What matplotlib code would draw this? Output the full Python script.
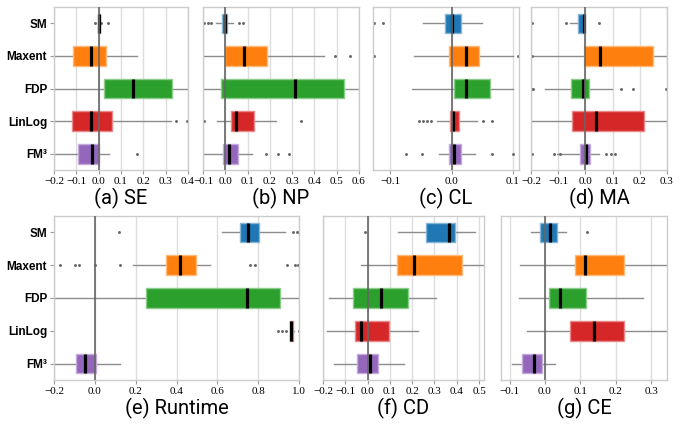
import numpy as np
import matplotlib.pyplot as plt
from matplotlib.colors import to_rgb

plt.rcParams['font.family'] = ['Liberation Serif', 'DejaVu Serif']

# methods, top to bottom
methods = ['SM', 'Maxent', 'FDP', 'LinLog', 'FM³']
colors = ['#1f77b4', '#ff7f0e', '#2ca02c', '#d62728', '#9467bd']

# (whislo, q1, median, q3, whishi) per method
se = [(-0.005, -0.003, 0.002, 0.005, 0.008),
      (-0.21, -0.115, -0.033, 0.031, 0.173),
      (-0.21, 0.024, 0.154, 0.33, 0.45),
      (-0.21, -0.12, -0.033, 0.061, 0.325),
      (-0.21, -0.094, -0.028, 0.0, 0.045)]
se_fliers = [[-0.015, 0.012, 0.042], [], [], [0.348, 0.397], [0.173]]

np_ = [(-0.04, -0.015, -0.003, 0.007, 0.034),
       (-0.11, 0.0, 0.084, 0.185, 0.442),
       (-0.11, -0.018, 0.312, 0.532, 0.62),
       (-0.037, 0.025, 0.049, 0.127, 0.229),
       (-0.097, -0.01, 0.016, 0.058, 0.12)]
np_fliers = [[-0.097, -0.078, -0.064, 0.061, 0.079], [0.49, 0.56], [],
             [-0.097, 0.338], [0.184, 0.235, 0.288]]

cl = [(-0.046, -0.011, 0.0, 0.015, 0.049),
      (-0.061, -0.004, 0.023, 0.044, 0.1),
      (-0.064, 0.004, 0.024, 0.062, 0.1),
      (-0.024, -0.003, 0.002, 0.013, 0.041),
      (-0.021, -0.004, 0.004, 0.015, 0.039)]
cl_fliers = [[-0.127, -0.112], [-0.127, 0.109], [],
             [-0.053, -0.047, -0.04, -0.033, 0.052, 0.066],
             [-0.074, -0.048, 0.066, 0.1]]

ma = [(-0.055, -0.027, -0.006, -0.004, -0.004),
      (-0.21, -0.006, 0.054, 0.249, 0.31),
      (-0.147, -0.053, -0.01, 0.013, 0.098),
      (-0.21, -0.048, 0.038, 0.214, 0.31),
      (-0.103, -0.021, 0.001, 0.016, 0.049)]
ma_fliers = [[-0.198, -0.073, 0.05], [-0.198], [-0.198, -0.192, 0.131, 0.174, 0.297],
             [], [-0.198, -0.116, -0.094, 0.077, 0.093, 0.108]]

rt = [(0.621, 0.713, 0.75, 0.806, 0.93),
      (0.187, 0.349, 0.419, 0.494, 0.564),
      (-0.21, 0.252, 0.744, 0.907, 1.01),
      (0.954, 0.954, 0.962, 0.971, 0.975),
      (-0.21, -0.092, -0.048, 0.007, 0.122)]
rt_fliers = [[0.118, 0.971, 0.988, 0.999],
             [-0.172, -0.097, -0.076, 0.002, 0.121, 0.758, 0.784, 0.94, 0.982, 0.995],
             [], [0.895, 0.915, 0.938, 0.998], []]

cd = [(0.137, 0.264, 0.363, 0.391, 0.481),
      (-0.031, 0.133, 0.209, 0.422, 0.55),
      (-0.172, -0.064, 0.058, 0.181, 0.307),
      (-0.181, -0.057, -0.028, 0.096, 0.227),
      (-0.151, -0.046, 0.009, 0.046, 0.163)]
cd_fliers = [[-0.012], [], [], [], []]

ce = [(-0.039, -0.014, 0.014, 0.035, 0.059),
      (-0.069, 0.085, 0.114, 0.223, 0.37),
      (-0.074, 0.012, 0.044, 0.117, 0.276),
      (-0.05, 0.071, 0.138, 0.223, 0.37),
      (-0.093, -0.065, -0.031, -0.009, 0.028)]
ce_fliers = [[0.118], [], [], [], []]

panels = [
    # data, fliers, caption, xlim, xticks, [left, bottom, width, height]
    (se, se_fliers, '(a) SE', (-0.2, 0.4), np.arange(-0.2, 0.41, 0.1), [0.0793, 0.599, 0.1968, 0.3844]),
    (np_, np_fliers, '(b) NP', (-0.1, 0.6), np.arange(-0.1, 0.61, 0.1), [0.2981, 0.599, 0.2291, 0.3844]),
    (cl, cl_fliers, '(c) CL', (-0.128, 0.11), [-0.1, 0.0, 0.1], [0.5477, 0.599, 0.2144, 0.3844]),
    (ma, ma_fliers, '(d) MA', (-0.2, 0.3), np.arange(-0.2, 0.31, 0.1), [0.7797, 0.599, 0.1997, 0.3844]),
    (rt, rt_fliers, '(e) Runtime', (-0.2, 1.0), np.arange(-0.2, 1.01, 0.2), [0.0793, 0.1038, 0.3598, 0.3868]),
    (cd, cd_fliers, '(f) CD', (-0.2, 0.522), np.arange(-0.2, 0.51, 0.1), [0.4743, 0.1038, 0.2364, 0.3868]),
    (ce, ce_fliers, '(g) CE', (-0.124, 0.345), np.arange(-0.1, 0.31, 0.1), [0.7357, 0.1038, 0.2438, 0.3868]),
]

cap_font = ['Roboto', 'DejaVu Sans']
lab_font = ['Liberation Sans', 'DejaVu Sans']


def lighten(c, f=0.45):
    r, g, b = to_rgb(c)
    return (r + (1 - r) * f, g + (1 - g) * f, b + (1 - b) * f)


fig = plt.figure(figsize=(6.81, 4.24), dpi=100)

for i, (data, fliers, caption, xlim, xticks, rect) in enumerate(panels):
    ax = fig.add_axes(rect)
    stats = []
    for (lo, q1, med, q3, hi), fl in zip(data, fliers):
        stats.append(dict(whislo=lo, q1=q1, med=med, q3=q3, whishi=hi, fliers=fl))
    pos = np.arange(len(methods), 0, -1)
    bp = ax.bxp(stats, positions=pos, widths=0.6, orientation='horizontal',
                patch_artist=True, showcaps=False,
                whiskerprops=dict(color='#8c8c8c', lw=1.0),
                medianprops=dict(color='black', lw=2.3),
                flierprops=dict(marker='.', markersize=2.2, markerfacecolor='#666666',
                                markeredgecolor='#666666', lw=0))
    for patch, c in zip(bp['boxes'], colors):
        patch.set_facecolor(c)
        patch.set_edgecolor(lighten(c))
        patch.set_linewidth(1.0)
    for w in bp['whiskers']:
        w.set_zorder(1)

    ax.axvline(0, color='#666666', lw=1.2, zorder=4)
    ax.set_xlim(*xlim)
    ax.set_ylim(0.5, 5.5)
    ax.set_xticks(xticks)
    ax.set_xticklabels([f'{t:.1f}'.replace('-', '\u2212') if abs(t) > 1e-9 else '0.0'
                        for t in xticks])
    ax.tick_params(axis='x', labelsize=8)
    ax.grid(axis='x', color='#dddddd', lw=1.0, zorder=0)
    ax.set_axisbelow(True)
    for s in ax.spines.values():
        s.set_color('#cccccc')
        s.set_linewidth(1.0)
    ax.tick_params(axis='both', color='#999999', length=3, width=0.8, pad=2)
    if i in (0, 4):
        ax.set_yticks(pos)
        ax.set_yticklabels(methods, family=lab_font, fontweight='bold', fontsize=8.5)
    else:
        ax.set_yticks([])
    ax.text(0.5, -0.175, caption, transform=ax.transAxes, ha='center', va='center',
            family=cap_font, fontsize=14.5)

fig.savefig('out.png', dpi=100)
